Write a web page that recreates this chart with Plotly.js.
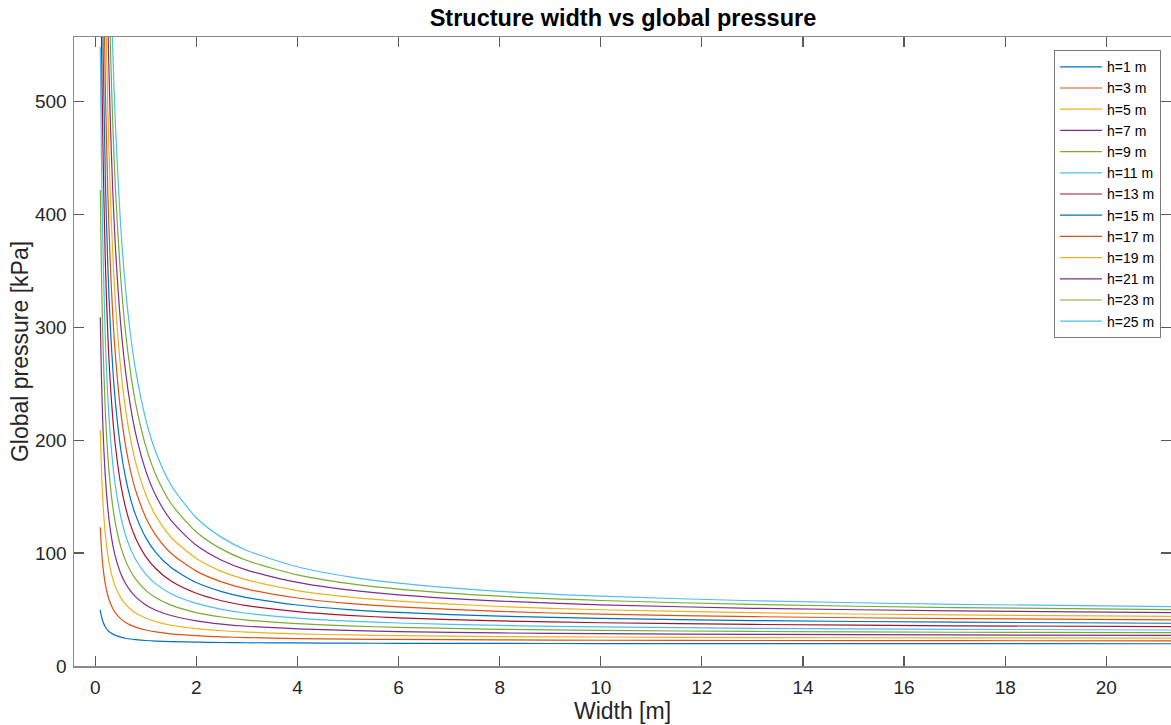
<!DOCTYPE html>
<html>
<head>
<meta charset="utf-8">
<script src="https://cdn.plot.ly/plotly-3.0.1.min.js"></script>
<style>html,body{margin:0;padding:0;background:#fff;}#chart{width:1171px;height:725px;}</style>
</head>
<body>
<div id="chart"></div>
<script>
// Structure width [m]
const widths = [0.1, 0.12, 0.15, 0.2, 0.25, 0.3, 0.35, 0.4, 0.5, 0.6, 0.7, 0.8, 1, 1.2, 1.5, 2, 2.5, 3, 4, 5, 6, 8, 10, 13, 17, 22];

// Ice thickness labels
const seriesNames = ["h=1 m", "h=3 m", "h=5 m", "h=7 m", "h=9 m", "h=11 m", "h=13 m", "h=15 m", "h=17 m", "h=19 m", "h=21 m", "h=23 m", "h=25 m"];

// Global pressure [kPa] (values above ~557 are off the top of the chart)
const p_h1  = [49.6, 44.6, 39.6, 34.6, 31.6, 29.6, 28.2, 27.1, 25.6, 24.6, 23.9, 23.4, 22.6, 22.1, 21.6, 21.1, 20.8, 20.6, 20.4, 20.2, 20.1, 20.0, 19.9, 19.8, 19.8, 19.7];
const p_h3  = [122.8, 106.0, 89.1, 72.3, 62.2, 55.5, 50.7, 47.1, 42.0, 38.6, 36.2, 34.4, 31.9, 30.2, 28.5, 26.9, 25.8, 25.2, 24.3, 23.8, 23.5, 23.1, 22.8, 22.6, 22.4, 22.3];
const p_h5  = [208.8, 178.0, 147.1, 116.3, 97.8, 85.5, 76.7, 70.1, 60.8, 54.6, 50.2, 46.9, 42.3, 39.2, 36.1, 33.1, 31.2, 30.0, 28.4, 27.5, 26.9, 26.1, 25.7, 25.2, 24.9, 24.6];
const p_h7  = [308.8, 261.6, 214.5, 167.3, 139.0, 120.1, 106.7, 96.6, 82.4, 73.0, 66.2, 61.2, 54.1, 49.4, 44.7, 40.0, 37.1, 35.2, 32.9, 31.5, 30.5, 29.3, 28.6, 28.0, 27.5, 27.1];
const p_h9  = [421.6, 355.9, 290.3, 224.6, 185.2, 158.9, 140.2, 126.1, 106.4, 93.3, 83.9, 76.9, 67.0, 60.4, 53.9, 47.3, 43.4, 40.7, 37.5, 35.5, 34.2, 32.5, 31.5, 30.6, 29.9, 29.4];
const p_h11 = [548.4, 461.9, 375.4, 288.9, 237.0, 202.4, 177.7, 159.2, 133.2, 115.9, 103.5, 94.3, 81.3, 72.7, 64.0, 55.4, 50.2, 46.7, 42.4, 39.8, 38.1, 35.9, 34.6, 33.4, 32.5, 31.8];
const p_h13 = [682.8, 574.3, 465.8, 357.3, 292.2, 248.8, 217.8, 194.6, 162.0, 140.3, 124.8, 113.2, 96.9, 86.1, 75.2, 64.4, 57.8, 53.5, 48.1, 44.8, 42.7, 39.9, 38.3, 36.8, 35.6, 34.8];
const p_h15 = [830.1, 697.4, 564.8, 432.1, 352.5, 299.4, 261.5, 233.1, 193.3, 166.8, 147.8, 133.6, 113.7, 100.4, 87.2, 73.9, 65.9, 60.6, 54.0, 50.0, 47.4, 44.1, 42.1, 40.2, 38.8, 37.7];
const p_h17 = [988.4, 829.7, 671.1, 512.4, 417.2, 353.7, 308.4, 274.4, 226.8, 195.1, 172.4, 155.4, 131.6, 115.7, 99.9, 84.0, 74.5, 68.1, 60.2, 55.4, 52.3, 48.3, 45.9, 43.7, 42.0, 40.7];
const p_h19 = [1171.5, 982.7, 793.8, 605.0, 491.7, 416.2, 362.2, 321.8, 265.1, 227.3, 200.4, 180.1, 151.8, 132.9, 114.0, 95.2, 83.8, 76.3, 66.8, 61.2, 57.4, 52.7, 49.8, 47.2, 45.2, 43.7];
const p_h21 = [1359.0, 1139.3, 919.7, 700.0, 568.2, 480.3, 417.6, 370.5, 304.6, 260.7, 229.3, 205.8, 172.8, 150.8, 128.9, 106.9, 93.7, 84.9, 74.0, 67.4, 63.0, 57.5, 54.2, 51.1, 48.8, 47.0];
const p_h23 = [1559.8, 1307.0, 1054.1, 801.3, 649.6, 548.5, 476.2, 422.1, 346.2, 295.6, 259.5, 232.4, 194.5, 169.2, 143.9, 118.7, 103.5, 93.4, 80.7, 73.1, 68.1, 61.8, 58.0, 54.5, 51.7, 49.7];
const p_h25 = [1782.4, 1492.7, 1203.1, 913.4, 739.6, 623.7, 541.0, 478.9, 392.0, 334.1, 292.7, 261.7, 218.2, 189.2, 160.3, 131.3, 113.9, 102.3, 87.9, 79.2, 73.4, 66.1, 61.8, 57.8, 54.6, 52.3];

const pressures = [p_h1, p_h3, p_h5, p_h7, p_h9, p_h11, p_h13, p_h15, p_h17, p_h19, p_h21, p_h23, p_h25];

const xTicks = [0, 2, 4, 6, 8, 10, 12, 14, 16, 18, 20];
const yTicks = [0, 100, 200, 300, 400, 500];

const palette = ["#0072BD", "#D95319", "#EDB120", "#7E2F8E", "#77AC30", "#4DBEEE", "#A2142F"];

const FONT = "Liberation Sans, Arial, Helvetica, sans-serif";
const TXT = "#262626";

const traces = pressures.map((ys, i) => ({
  type: "scatter",
  mode: "lines",
  name: seriesNames[i],
  x: widths,
  y: ys,
  line: {color: palette[i % palette.length], width: 1.2, shape: "spline", smoothing: 0.7},
  hoverinfo: "skip"
}));

const axisCommon = {
  showgrid: false,
  zeroline: false,
  showline: true,
  linecolor: "#8a8a8a",
  linewidth: 1.5,
  mirror: "ticks",
  ticks: "inside",
  ticklen: 10,
  tickwidth: 1.2,
  tickcolor: "#5a5a5a",
  tickfont: {family: FONT, size: 19, color: TXT},
  fixedrange: true
};

const layout = {
  width: 1171,
  height: 725,
  paper_bgcolor: "#ffffff",
  plot_bgcolor: "#ffffff",
  margin: {l: 74, r: 0, t: 37, b: 59},
  showlegend: true,
  title: {
    text: "<b>Structure width vs global pressure</b>",
    font: {family: FONT, size: 23.5, color: "#000000"},
    x: 0.532, xref: "container", xanchor: "center",
    y: 0.976, yref: "container", yanchor: "middle"
  },
  xaxis: Object.assign({}, axisCommon, {
    range: [-0.42, 21.28],
    tickvals: xTicks,
    ticktext: xTicks.map(String),
    ticklabelstandoff: 4,
    title: {text: "Width [m]", font: {family: FONT, size: 23, color: TXT}, standoff: 3}
  }),
  yaxis: Object.assign({}, axisCommon, {
    range: [0, 557],
    tickvals: yTicks,
    ticktext: yTicks.map(String),
    ticklabelstandoff: 2,
    title: {text: "Global pressure [kPa]", font: {family: FONT, size: 23, color: TXT}, standoff: 0}
  }),
  legend: {
    x: 0.9909, xanchor: "right",
    y: 0.979, yanchor: "top",
    bgcolor: "#ffffff",
    bordercolor: "#7a7a7a",
    borderwidth: 1,
    font: {family: FONT, size: 14, color: "#000000"},
    itemwidth: 42,
    traceorder: "normal",
    tracegroupgap: 0
  }
};

Plotly.newPlot("chart", traces, layout, {staticPlot: true, displayModeBar: false});
</script>
</body>
</html>
